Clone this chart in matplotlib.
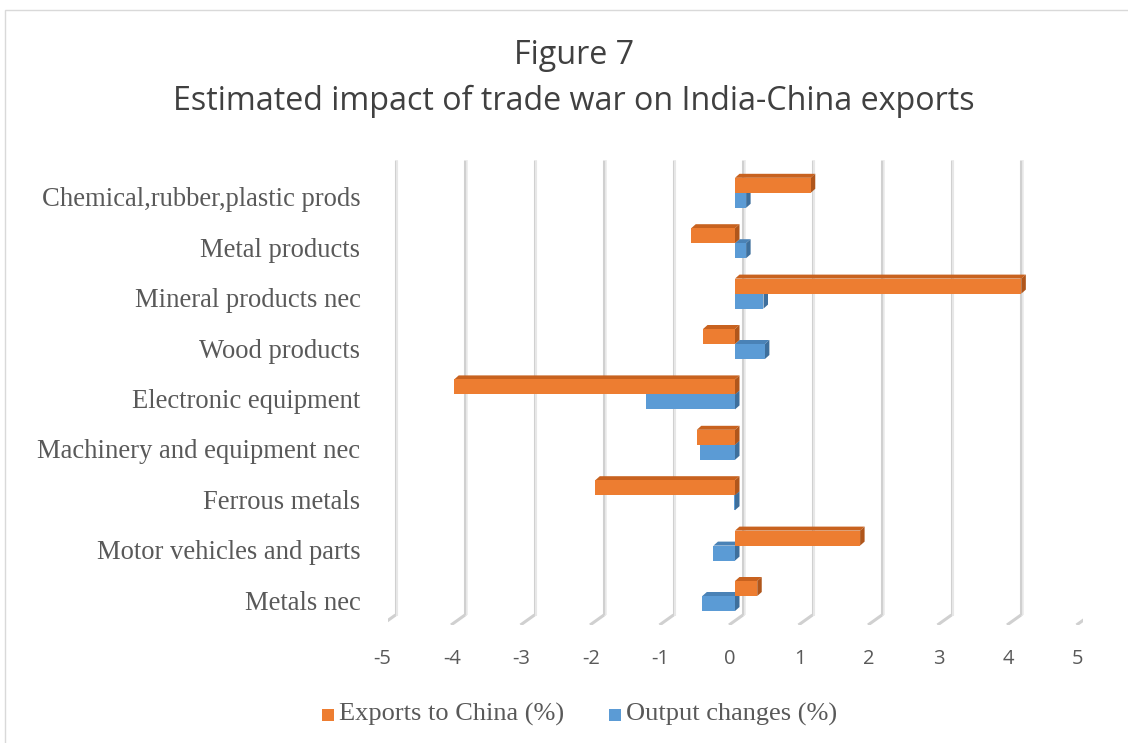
import matplotlib.pyplot as plt
from matplotlib.patches import Polygon, Rectangle
from matplotlib.transforms import ScaledTranslation

# Sectors, bottom to top as drawn on the y axis
sectors = ['Metals nec', 'Motor vehicles and parts', 'Ferrous metals',
           'Machinery and equipment nec', 'Electronic equipment',
           'Wood products', 'Mineral products nec', 'Metal products',
           'Chemical,rubber,plastic prods']
exports_china = [0.32, 1.80, -2.01, -0.55, -4.04, -0.46, 4.12, -0.63, 1.09]
output_change = [-0.47, -0.31, -0.02, -0.51, -1.28, 0.43, 0.41, 0.16, 0.16]
xticks = list(range(-5, 6))

ORANGE, ORANGE_TOP, ORANGE_SIDE = '#ED7D31', '#C8621F', '#B0561B'
BLUE, BLUE_TOP, BLUE_SIDE = '#5B9BD5', '#4A82B6', '#3E6F9C'

W, H = 1128, 743
fig = plt.figure(figsize=(W / 100, H / 100), dpi=100)

# plot area in pixels: x -5..5 spans 387.5..1082.5, y from 160 to 625 (from top)
px_left, px_right = 387.5, 1082.5
px_top, px_bot = 160, 625
ax = fig.add_axes([px_left / W, (H - px_bot) / H,
                   (px_right - px_left) / W, (px_bot - px_top) / H])
ax.set_xlim(-5, 5)
ypx = 50.4                      # pixels per category
ax.set_ylim((596 - px_bot) / ypx, (596 - px_top) / ypx)
xpx = (px_right - px_left) / 10  # pixels per x unit

for s in ax.spines.values():
    s.set_visible(False)

# 3d-looking gridlines: back wall lines plus slanted floor lines
y_back_floor = (596 - 615) / ypx
y_front = (596 - px_bot) / ypx
y_top = (596 - px_top) / ypx
back_dx = 8 / xpx
front_dx = -6 / xpx
for v in xticks:
    ax.plot([v + back_dx, v + back_dx], [y_back_floor, y_top],
            color='#d0d0d0', lw=2.2, zorder=0, solid_capstyle='butt')
    ax.plot([v + back_dx + 0.025, v + back_dx + 0.025], [y_back_floor, y_top],
            color='#ececec', lw=1.2, zorder=0, solid_capstyle='butt')
    ax.plot([v + back_dx, v + front_dx], [y_back_floor, y_front],
            color='#d0d0d0', lw=2.2, zorder=0, solid_capstyle='butt')

bar_h = 15 / ypx
ddx = 4.5 / xpx   # depth offset of the bar faces
ddy = 4 / ypx


def bar3d(val, yc, face, top, side):
    x0, x1 = min(0, val), max(0, val)
    y0, y1 = yc - bar_h / 2, yc + bar_h / 2
    ax.add_patch(Polygon([(x0, y1), (x1, y1), (x1 + ddx, y1 + ddy), (x0 + ddx, y1 + ddy)],
                         closed=True, fc=top, ec='none', zorder=2))
    ax.add_patch(Polygon([(x1, y0), (x1, y1), (x1 + ddx, y1 + ddy), (x1 + ddx, y0 + ddy)],
                         closed=True, fc=side, ec='none', zorder=2))
    ax.add_patch(Rectangle((x0, y0), x1 - x0, y1 - y0, fc=face, ec='none', zorder=3))


for i in range(len(sectors)):
    bar3d(output_change[i], i - bar_h / 2, BLUE, BLUE_TOP, BLUE_SIDE)
for i in range(len(sectors)):
    bar3d(exports_china[i], i + bar_h / 2, ORANGE, ORANGE_TOP, ORANGE_SIDE)

ax.set_yticks([i - 0.08 for i in range(len(sectors))])
ax.set_yticklabels(sectors, family='Liberation Serif', fontsize=19.2, color='#595959')
ax.tick_params(axis='y', length=0, pad=19.5)
ax.set_xticks(xticks)
ax.set_xticklabels([str(t) for t in xticks], family='Open Sans', fontsize=14.5, color='#595959')
ax.tick_params(axis='x', length=0, pad=17)
shift = ScaledTranslation(-5 / 100, 0, fig.dpi_scale_trans)
for lab in ax.get_xticklabels():
    lab.set_transform(lab.get_transform() + shift)

# title
fig.text(574 / W, 1 - 55 / H, 'Figure 7', ha='center', va='center',
         family='Open Sans', fontsize=23.2, color='#404040')
fig.text(574 / W, 1 - 101 / H, 'Estimated impact of trade war on India-China exports',
         ha='center', va='center', family='Open Sans', fontsize=23.2, color='#404040')

# legend
fig.patches.append(Rectangle((322 / W, 1 - 721 / H), 12 / W, 12 / H,
                             transform=fig.transFigure, fc=ORANGE, ec='none'))
fig.text(339 / W, 1 - 714 / H, 'Exports to China (%)', ha='left', va='center',
         family='Liberation Serif', fontsize=19, color='#595959')
fig.patches.append(Rectangle((609 / W, 1 - 721 / H), 12 / W, 12 / H,
                             transform=fig.transFigure, fc=BLUE, ec='none'))
fig.text(626 / W, 1 - 714 / H, 'Output changes (%)', ha='left', va='center',
         family='Liberation Serif', fontsize=19, color='#595959')

# chart border
fig.patches.append(Rectangle((5 / W, -0.05), 1.1, 1 - 10 / H + 0.05,
                             transform=fig.transFigure, fc='none', ec='#d9d9d9', lw=1))

fig.savefig('out.png', dpi=100)
